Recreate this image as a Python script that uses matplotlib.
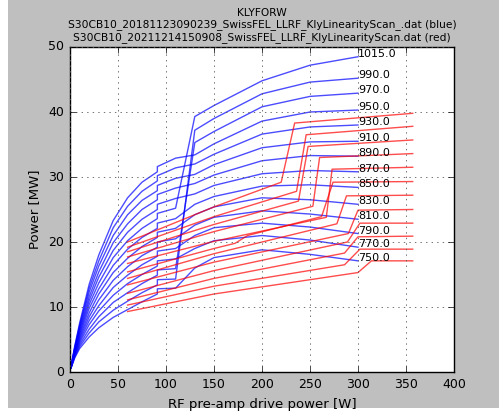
import matplotlib
matplotlib.use('Agg')
import matplotlib.pyplot as plt
from matplotlib.patches import Rectangle

# drive power points of the old scan (blue)
blue_x = [1, 5, 10, 20, 30, 45, 60, 75, 91, 91, 110, 130, 150, 200, 250, 300]

b750 = [0.6, 2.2, 3.6, 5.4, 6.8, 8.4, 9.6, 10.8, 12.0, 12.8, 12.9, 16.0, 17.6, 18.8, 18.1, 17.1]
b770 = [0.6, 2.6, 4.5, 7.3, 9.4, 11.8, 13.6, 15.0, 16.3, 17.1, 17.4, 19.0, 20.2, 21.0, 20.3, 19.2]
b790 = [0.7, 2.8, 4.8, 7.9, 10.2, 13.0, 14.9, 16.5, 17.8, 18.6, 19.0, 21.0, 22.2, 22.9, 22.3, 21.3]
b810 = [0.7, 2.9, 5.1, 8.5, 11.1, 14.1, 16.2, 17.9, 19.2, 20.0, 20.5, 22.6, 23.8, 24.8, 24.3, 23.5]
b830 = [0.7, 3.0, 5.4, 9.1, 12.0, 15.3, 17.5, 19.3, 20.7, 21.5, 22.1, 24.2, 25.4, 26.8, 26.5, 25.8]
b850 = [0.7, 3.2, 5.7, 9.8, 12.8, 16.4, 18.9, 20.7, 22.1, 22.9, 23.6, 25.8, 27.0, 28.6, 28.8, 28.4]
b870 = [0.7, 3.4, 6.3, 11.0, 14.6, 18.7, 21.5, 23.5, 25.0, 25.8, 26.7, 27.4, 28.7, 30.5, 31.0, 30.8]
b890 = [0.8, 3.6, 6.6, 11.6, 15.4, 19.9, 22.8, 25.0, 26.5, 27.3, 28.3, 29.0, 30.3, 32.5, 33.3, 33.2]
b910 = [0.8, 3.7, 6.9, 12.3, 16.3, 21.0, 24.2, 26.4, 27.9, 28.7, 29.8, 30.4, 31.9, 34.5, 35.4, 35.5]
b930 = [0.8, 3.9, 7.2, 12.9, 17.1, 22.2, 25.5, 27.8, 29.4, 30.2, 31.4, 32.0, 33.5, 36.6, 37.7, 38.0]
b950 = [0.8, 4.0, 7.5, 13.5, 18.0, 23.3, 26.8, 29.2, 30.8, 31.6, 32.9, 33.4, 35.1, 38.6, 40.0, 40.3]
b970 = [0.6, 2.5, 4.2, 6.6, 8.5, 10.7, 12.2, 13.6, 14.9, 15.7, 15.9, 35.3, 37.0, 40.8, 42.4, 42.9]
b990 = [0.6, 2.3, 3.9, 6.0, 7.7, 9.5, 10.9, 12.2, 13.4, 14.2, 14.3, 37.2, 39.0, 42.8, 44.6, 45.2]
b1015 = [0.7, 3.3, 6.0, 10.4, 13.7, 17.6, 20.2, 22.1, 23.6, 24.4, 25.2, 39.3, 41.0, 44.8, 47.2, 48.5]

blue_curves = [b750, b770, b790, b810, b830, b850, b870, b890, b910, b930, b950, b970, b990, b1015]
volt_labels = ['750.0', '770.0', '790.0', '810.0', '830.0', '850.0', '870.0',
               '890.0', '910.0', '930.0', '950.0', '970.0', '990.0', '1015.0']

# new scan (red)
r0_x = [60, 150, 300, 314, 357]
r0_y = [9.3, 12.0, 15.3, 17.1, 17.1]
r1_x = [60, 150, 286, 302, 357]
r1_y = [10.3, 13.2, 16.5, 18.9, 18.9]
r2_x = [60, 150, 286, 300, 357]
r2_y = [11.1, 14.4, 18.3, 20.8, 20.9]
r3_x = [60, 150, 289, 302, 357]
r3_y = [12.1, 15.6, 20.0, 22.9, 22.9]
r4_x = [60, 150, 290, 300, 357]
r4_y = [13.4, 16.9, 21.3, 24.9, 25.0]
r5_x = [60, 150, 278, 288, 357]
r5_y = [14.4, 18.2, 22.8, 27.1, 27.2]
r6_x = [60, 150, 172, 185, 262, 274, 357]
r6_y = [15.4, 19.0, 19.8, 21.0, 23.9, 29.2, 29.3]
r7_x = [60, 150, 267, 273, 357]
r7_y = [16.7, 20.1, 23.8, 31.2, 31.5]
r8_x = [60, 150, 253, 260, 357]
r8_y = [17.7, 21.6, 25.5, 33.0, 33.6]
r9_x = [60, 150, 238, 248, 357]
r9_y = [18.5, 22.7, 26.3, 34.7, 35.7]
r10_x = [60, 150, 236, 246, 357]
r10_y = [19.2, 23.9, 27.8, 36.5, 37.8]
r11_x = [60, 150, 220, 234, 357]
r11_y = [20.0, 25.4, 29.2, 38.3, 39.8]

red_curves = [(r0_x, r0_y), (r1_x, r1_y), (r2_x, r2_y), (r3_x, r3_y), (r4_x, r4_y),
              (r5_x, r5_y), (r6_x, r6_y), (r7_x, r7_y), (r8_x, r8_y), (r9_x, r9_y),
              (r10_x, r10_y), (r11_x, r11_y)]

plt.style.use('classic')

fig = plt.figure(figsize=(4.99, 4.11), dpi=100, facecolor='0.75')
# white frame of the screenshot
fig.patches.append(Rectangle((0, 0), 8 / 499, 1, transform=fig.transFigure,
                             facecolor='white', edgecolor='none', zorder=-1))
fig.patches.append(Rectangle((0, 0), 1, 3 / 411, transform=fig.transFigure,
                             facecolor='white', edgecolor='none', zorder=-1))
ax = fig.add_axes([70 / 499, 39 / 411, 384 / 499, 325 / 411])

for y in blue_curves:
    ax.plot(blue_x, y, color='b', alpha=0.7, lw=1.0)
for x, y in red_curves:
    ax.plot(x, y, color='r', alpha=0.7, lw=1.0)
for y, lab in zip(blue_curves, volt_labels):
    ax.text(300, y[-1], lab, fontsize=8)

ax.set_xlim(0, 400)
ax.set_ylim(0, 50)
ax.grid(True, color='0.35', lw=0.6)
ax.tick_params(labelsize=9)
ax.set_xlabel('RF pre-amp drive power [W]', fontsize=9.5)
ax.set_ylabel('Power [MW]', fontsize=9.5)
ax.set_title('KLYFORW\n'
             'S30CB10_20181123090239_SwissFEL_LLRF_KlyLinearityScan_.dat (blue)\n'
             'S30CB10_20211214150908_SwissFEL_LLRF_KlyLinearityScan.dat (red)',
             fontsize=7.7, linespacing=1.2)

fig.savefig('out.png', dpi=100, facecolor=fig.get_facecolor())
